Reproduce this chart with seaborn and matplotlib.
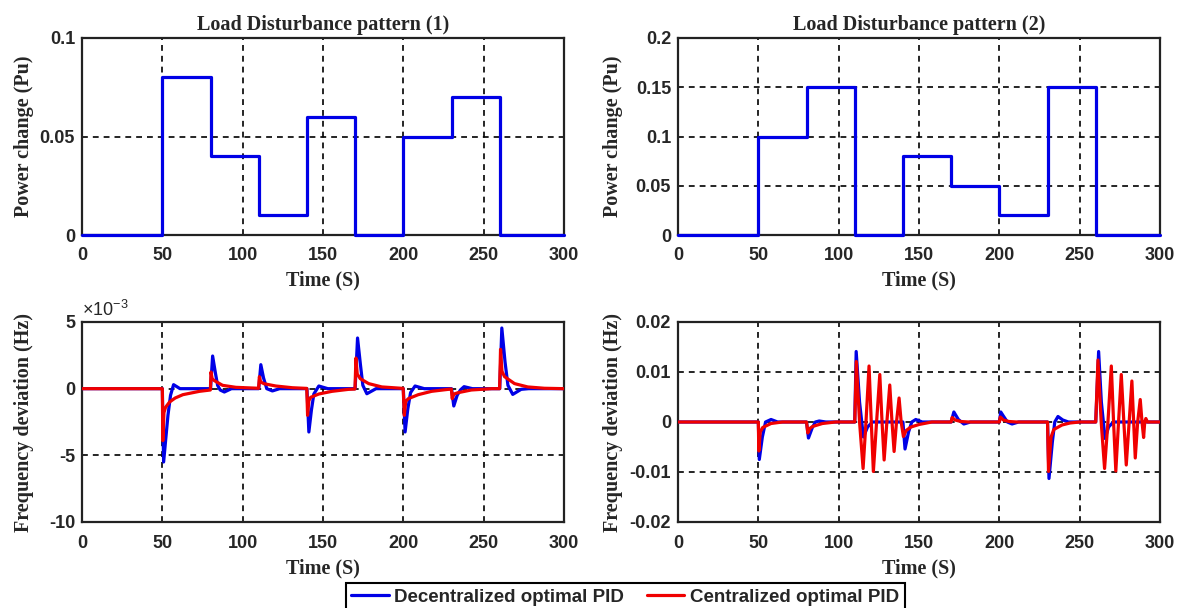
import numpy as np
import pandas as pd
import matplotlib
matplotlib.use("Agg")
import matplotlib.pyplot as plt
import seaborn as sns

# load disturbance steps (start times of each step, value held until next time)
step_t = [0, 50, 80, 110, 140, 170, 200, 230, 260, 300]
load1 = [0, 0.08, 0.04, 0.01, 0.06, 0, 0.05, 0.07, 0, 0]
load2 = [0, 0.10, 0.15, 0, 0.08, 0.05, 0.02, 0.15, 0, 0]

# frequency deviation, pattern 1 (values in 1e-3 Hz)
dec1_t = [0, 50, 50.8, 53.5, 55.1, 57.0, 61,
          80, 81.3, 83.0, 84.4, 86.0, 88.6, 93,
          110, 111.3, 113.0, 115.0, 118.5, 123,
          140, 141.2, 142.8, 144.3, 147.4, 153,
          170, 171.5, 173.3, 174.8, 177.3, 183,
          200, 201.1, 202.8, 204.5, 207.3, 213,
          230, 231.4, 233.5, 235.5, 237.8, 243,
          260, 261.3, 263.3, 265.1, 268.1, 273.3, 278, 300]
dec1_v = [0, 0, -5.5, -2.0, -0.5, 0.3, 0,
          0, 2.45, 1.2, 0.25, -0.1, -0.25, 0,
          0, 1.8, 0.8, 0.0, -0.17, 0,
          0, -3.25, -1.6, -0.4, 0.2, 0,
          0, 3.8, 1.8, 0.25, -0.38, 0,
          0, -3.25, -1.5, -0.3, 0.2, 0,
          0, -1.3, -0.5, -0.1, 0.15, 0,
          0, 4.55, 2.0, 0.25, -0.43, -0.05, 0, 0]

cen1_t = [0, 50, 50.3, 51.0, 52.0, 54.5, 58.0, 62.8, 73.1, 79.9,
          80.3, 81.0, 82.4, 87.5, 95.8, 109.9,
          110.4, 111.2, 113.3, 120.6, 130.9, 139.9,
          140.4, 141.2, 142.3, 147.4, 155.6, 166.0, 169.9,
          170.5, 171.3, 173.2, 178.4, 186.6, 199.9,
          200.6, 201.5, 203.1, 209.3, 217.6, 228.0, 229.9,
          230.4, 231.5, 234.1, 242.3, 255.0, 259.9,
          260.5, 261.4, 263.0, 269.2, 277.4, 287.8, 300]
cen1_v = [0, 0, -3.9, -1.8, -1.4, -1.0, -0.7, -0.45, -0.2, -0.1,
          1.25, 0.75, 0.6, 0.25, 0.1, 0.03,
          0.9, 0.5, 0.37, 0.2, 0.07, 0.02,
          -2.0, -0.9, -0.65, -0.4, -0.2, -0.05, -0.03,
          2.3, 1.1, 0.75, 0.38, 0.13, 0.02,
          -2.0, -0.95, -0.75, -0.45, -0.2, -0.05, -0.03,
          -0.75, -0.4, -0.3, -0.1, 0.0, 0.0,
          2.95, 1.3, 0.9, 0.38, 0.13, 0.03, 0]

# frequency deviation, pattern 2 (Hz)
dec2_t = [0, 50, 50.6, 52.5, 54.5, 57.9, 62,
          80, 81.2, 83.5, 85.5, 87.9, 92,
          110, 110.9, 113.0, 115.4, 118.0, 121,
          140, 141.3, 143.5, 145.5, 148.0, 152,
          170, 171.7, 174.5, 177.9, 182,
          200, 200.9, 202.5, 205.0, 207.9, 212,
          230, 230.9, 233.0, 234.5, 236.5, 239.5, 243,
          260, 261.8, 263.5, 265.8, 268.0, 271, 300]
dec2_v = [0, 0, -0.0075, -0.003, 0.0, 0.0005, 0,
          0, -0.0032, -0.0012, 0.0, 0.0002, 0,
          0, 0.0141, 0.004, -0.003, -0.001, 0,
          0, -0.0054, -0.002, 0.0, 0.0005, 0,
          0, 0.002, 0.0005, -0.0004, 0,
          0, 0.002, 0.0012, 0.0, -0.0004, 0,
          0, -0.0113, -0.004, 0.0, 0.0011, 0.0004, 0,
          0, 0.0141, 0.004, -0.0033, -0.001, 0, 0]

cen2_t = [0, 50, 50.3, 51.2, 52.7, 57.9, 65,
          80, 80.8, 82.0, 83.7, 89.9, 98,
          110, 111.0, 113.0, 115.2, 117.0, 118.9, 120.3, 121.6, 123.6, 125.6,
          127.0, 128.3, 130.0, 131.8, 133.2, 134.5, 136.0, 137.6, 138.9,
          140.3, 142.0, 145.0, 150.0, 158,
          170, 170.6, 172.5, 176.0, 181,
          200, 200.6, 202.5, 206.0, 211,
          230, 230.6, 232.2, 233.9, 239.0, 244.0, 250,
          260, 261.4, 263.4, 265.5, 267.6, 269.7, 271.1, 272.5, 274.2, 275.9,
          277.5, 279.0, 280.8, 282.5, 283.6, 284.6, 286.1, 287.7, 288.8,
          289.8, 290.5, 291.2, 292.2, 300]
cen2_v = [0, 0, -0.0058, -0.002, -0.0011, -0.0003, 0,
          0, -0.0022, -0.0013, -0.0009, -0.0003, 0,
          0, 0.0121, 0.0, -0.0093, 0.0, 0.0112, 0.0, -0.0099, 0.0, 0.0095,
          0.0, -0.0076, 0.0, 0.0074, 0.0, -0.0059, 0.0, 0.0048, 0.0,
          -0.0029, -0.0017, -0.001, -0.0005, 0,
          0, 0.0009, 0.0004, 0.0001, 0,
          0, 0.001, 0.0004, 0.0001, 0,
          0, -0.0099, -0.003, -0.0015, -0.0006, -0.0002, 0,
          0, 0.0124, 0.0, -0.0093, 0.0, 0.0112, 0.0, -0.0098, 0.0, 0.0095,
          0.0, -0.0086, 0.0, 0.0082, 0.0, -0.0072, 0.0, 0.0045, 0.0,
          -0.0031, 0.0, 0.0007, 0.0, 0]

x_ticks = [0, 50, 100, 150, 200, 250, 300]
labels = ["Decentralized optimal PID", "Centralized optimal PID"]
BLUE = "#0000e6"
RED = "#f00000"

sns.set_theme(style="white")
plt.rcParams["font.family"] = ["Liberation Sans", "DejaVu Sans"]
plt.rcParams["mathtext.default"] = "regular"

fig = plt.figure(figsize=(11.85, 6.08), dpi=100)
W, H = 1185, 608


def px_axes(x0, y0, x1, y1):
    return fig.add_axes([x0 / W, 1 - y1 / H, (x1 - x0) / W, (y1 - y0) / H])


ax1 = px_axes(82, 38, 564, 235)
ax2 = px_axes(678, 38, 1160, 235)
ax3 = px_axes(82, 322, 564, 522)
ax4 = px_axes(678, 322, 1160, 522)

serif = dict(family="Liberation Serif", weight="bold")

# top: load steps
for ax, load, title, yt in [(ax1, load1, "Load Disturbance pattern (1)", [0, 0.05, 0.1]),
                            (ax2, load2, "Load Disturbance pattern (2)", [0, 0.05, 0.1, 0.15, 0.2])]:
    df = pd.DataFrame({"t": step_t, "p": load})
    sns.lineplot(data=df, x="t", y="p", ax=ax, color=BLUE, lw=2.3,
                 drawstyle="steps-post", estimator=None, sort=False, legend=False,
                 zorder=3, clip_on=False)
    ax.set_ylim(yt[0], yt[-1])
    ax.set_yticks(yt)
    ax.set_yticklabels([f"{v:g}" for v in yt])
    ax.set_title(title, fontsize=14.5, pad=6, **serif)
    ax.set_ylabel("Power change (Pu)", fontsize=14.5, **serif)

# bottom: frequency deviation
pairs = [(ax3, dec1_t, dec1_v, cen1_t, cen1_v), (ax4, dec2_t, dec2_v, cen2_t, cen2_v)]
for ax, dt, dv, ct, cv in pairs:
    d1 = pd.DataFrame({"t": dt, "f": dv})
    d2 = pd.DataFrame({"t": ct, "f": cv})
    sns.lineplot(data=d1, x="t", y="f", ax=ax, color=BLUE, lw=2.3, label=labels[0],
                 estimator=None, sort=False, legend=False, zorder=3)
    sns.lineplot(data=d2, x="t", y="f", ax=ax, color=RED, lw=2.3, label=labels[1],
                 estimator=None, sort=False, legend=False, zorder=3)
    ax.set_ylabel("Frequency deviation (Hz)", fontsize=14.5, **serif)

ax3.set_ylim(-10, 5)
ax3.set_yticks([-10, -5, 0, 5])
ax3.set_yticklabels(["-10", "-5", "0", "5"])
ax3.text(0.0, 1.012, r"$\times10^{-3}$", transform=ax3.transAxes, fontsize=13,
         ha="left", va="bottom")
ax4.set_ylim(-0.02, 0.02)
ax4.set_yticks([-0.02, -0.01, 0, 0.01, 0.02])
ax4.set_yticklabels(["-0.02", "-0.01", "0", "0.01", "0.02"])

for ax in (ax1, ax2, ax3, ax4):
    ax.set_xlim(0, 300)
    ax.set_xticks(x_ticks)
    ax.set_xlabel("Time (S)", fontsize=14.5, **serif)
    ax.grid(True, color="black", linestyle=(0, (3.5, 3)), lw=1.2)
    ax.tick_params(direction="in", length=3, width=1, labelsize=13, pad=9)
    ax.tick_params(axis="y", pad=5)
    for lab in ax.get_xticklabels() + ax.get_yticklabels():
        lab.set_fontweight("bold")
    for sp in ax.spines.values():
        sp.set_color("#222222")
        sp.set_linewidth(1.6)
    ax.xaxis.set_label_coords(0.5, -0.18)

ax1.yaxis.set_label_coords(-0.1, 0.5)
ax3.yaxis.set_label_coords(-0.1, 0.5)
ax2.yaxis.set_label_coords(-0.114, 0.5)
ax4.yaxis.set_label_coords(-0.114, 0.5)

handles, labs = ax3.get_legend_handles_labels()
leg = fig.legend(handles, labs, loc="upper center", bbox_to_anchor=(625 / W, 1 - 583 / H),
                 ncol=2, frameon=True, fancybox=False, framealpha=1, edgecolor="black",
                 prop=dict(family="Liberation Sans", weight="bold", size=13.5),
                 handlelength=2.0, handletextpad=0.3, columnspacing=1.2, borderpad=0.3,
                 borderaxespad=0)
leg.get_frame().set_linewidth(1.5)

fig.savefig("out.png", dpi=100)
